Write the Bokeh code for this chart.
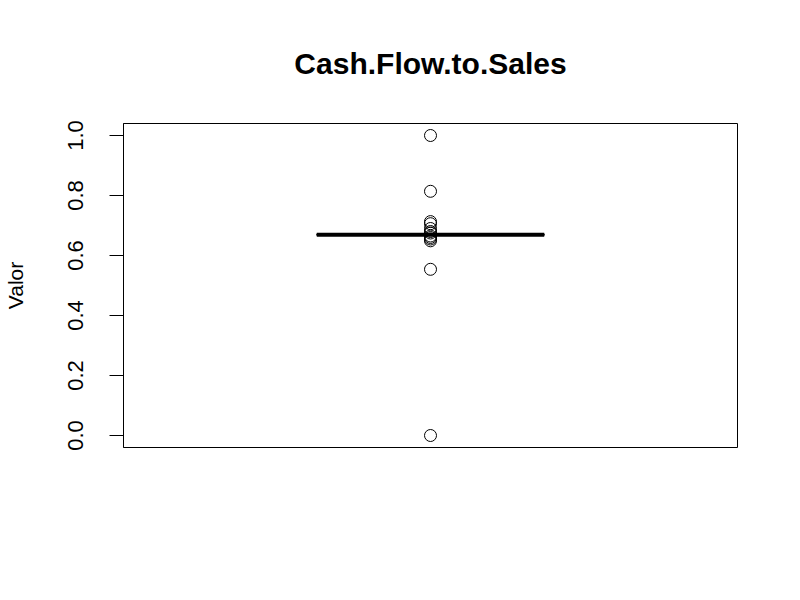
from bokeh.plotting import figure
from bokeh.models import Range1d, FixedTicker
from bokeh.embed import file_html
from bokeh.resources import INLINE

# ---- data ----
title_text = "Cash.Flow.to.Sales"
y_label = "Valor"
median_value = 0.669
q1_value = 0.667
q3_value = 0.672
outliers = [1.0, 0.814, 0.713, 0.706, 0.69, 0.68, 0.675, 0.665, 0.66, 0.655, 0.649, 0.554, 0.0]
tick_values = [0.0, 0.2, 0.4, 0.6, 0.8, 1.0]
tick_labels = ["0.0", "0.2", "0.4", "0.6", "0.8", "1.0"]
group_pos = 1.0

FONT = "Liberation Sans"

p = figure(width=796, height=596, output_backend="svg", toolbar_location=None,
           x_range=Range1d(0.46, 1.54), y_range=Range1d(-0.04, 1.04),
           min_border_left=123, min_border_right=59, min_border_top=123, min_border_bottom=149)
p.title.text = title_text
p.title.align = "center"
p.title.text_font = FONT
p.title.text_font_size = "30px"
p.title.text_font_style = "bold"
p.title.text_color = "black"
p.title.text_line_height = 1.0
p.title.standoff = 88

p.xgrid.visible = False
p.ygrid.visible = False
p.xaxis.visible = False
p.outline_line_color = "black"
p.outline_line_width = 1
p.outline_line_alpha = 1
p.background_fill_color = "white"
p.border_fill_color = "white"

ax = p.yaxis[0]
ax.ticker = FixedTicker(ticks=tick_values)
ax.major_label_overrides = {v: s for v, s in zip(tick_values, tick_labels)}
ax.major_label_orientation = "vertical"
ax.major_label_text_font = FONT
ax.major_label_text_font_size = "22px"
ax.major_label_text_color = "black"
ax.major_label_standoff = 27
ax.major_tick_out = 14
ax.major_tick_in = 0
ax.minor_tick_out = 0
ax.minor_tick_in = 0
ax.major_tick_line_color = "black"
ax.axis_line_color = "black"
ax.axis_label = y_label
ax.axis_label_text_font = FONT
ax.axis_label_text_font_size = "21px"
ax.axis_label_text_font_style = "normal"
ax.axis_label_text_color = "black"
ax.axis_label_standoff = 38

# box (collapsed) and median
p.quad(left=[group_pos - 0.2], right=[group_pos + 0.2], bottom=[q1_value], top=[q3_value],
       fill_color=None, line_color="black", line_width=1)
p.segment(x0=[group_pos - 0.2], x1=[group_pos + 0.2], y0=[median_value], y1=[median_value],
          line_color="black", line_width=4)
p.scatter(x=[group_pos] * len(outliers), y=outliers, size=12, marker="circle",
          fill_color=None, line_color="black", line_width=1)

open("out.html", "w").write(file_html(p, INLINE))
